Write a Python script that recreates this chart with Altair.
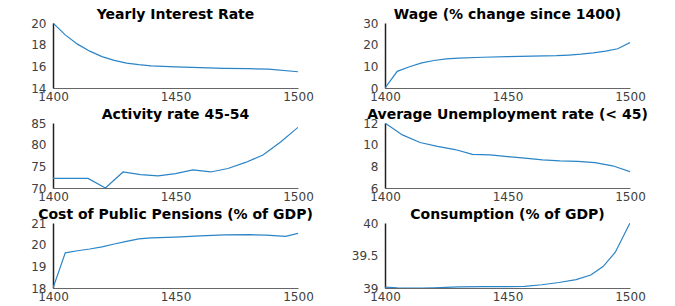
import altair as alt
import pandas as pd

# ---- data ----
interest_years = [1400, 1405, 1410, 1415, 1420, 1425, 1430, 1435, 1440, 1450, 1460, 1470, 1480, 1488, 1500]
interest_vals = [20.0, 18.9, 18.05, 17.4, 16.9, 16.55, 16.3, 16.15, 16.05, 15.95, 15.88, 15.82, 15.78, 15.75, 15.5]

wage_years = [1400, 1405, 1410, 1415, 1420, 1425, 1430, 1440, 1450, 1460, 1470, 1475, 1480, 1485, 1490, 1495, 1500]
wage_vals = [0.0, 7.7, 9.8, 11.6, 12.7, 13.4, 13.8, 14.2, 14.5, 14.7, 14.9, 15.2, 15.6, 16.2, 17.0, 18.1, 21.0]

activity_years = [1400, 1407.1, 1414.3, 1421.4, 1428.6, 1435.7, 1442.9, 1450, 1457.1, 1464.3, 1471.4, 1478.6, 1485.7, 1492.9, 1500]
activity_vals = [72.2, 72.2, 72.2, 70.0, 73.7, 73.1, 72.8, 73.3, 74.2, 73.7, 74.5, 75.9, 77.6, 80.6, 84.0]

unemp_years = [1400, 1407.1, 1414.3, 1421.4, 1428.6, 1435.7, 1442.9, 1450, 1457.1, 1464.3, 1471.4, 1478.6, 1485.7, 1492.9, 1500]
unemp_vals = [12.0, 10.9, 10.2, 9.85, 9.55, 9.1, 9.05, 8.9, 8.75, 8.6, 8.5, 8.45, 8.35, 8.05, 7.5]

pension_years = [1400, 1405, 1410, 1415, 1420, 1425, 1430, 1435, 1440, 1450, 1460, 1470, 1480, 1487, 1495, 1500]
pension_vals = [18.0, 19.62, 19.72, 19.8, 19.9, 20.03, 20.15, 20.27, 20.31, 20.35, 20.41, 20.45, 20.46, 20.44, 20.38, 20.52]

cons_years = [1400, 1405, 1410, 1415, 1420, 1425, 1430, 1440, 1450, 1457, 1464, 1471, 1478, 1484, 1489, 1494, 1500]
cons_vals = [39.015, 39.003, 39.0, 39.0, 39.003, 39.01, 39.018, 39.02, 39.022, 39.025, 39.05, 39.085, 39.13, 39.2, 39.33, 39.55, 40.0]

x_ticks = [1400, 1450, 1500]

LINE = "#2b84c6"
TXT = "#404040"


def panel(years, values, title, ydomain, yticks):
    df = pd.DataFrame({"year": years, "value": values})
    return (
        alt.Chart(
            df,
            title=alt.TitleParams(
                title, fontSize=14, font="DejaVu Sans", fontWeight="bold",
                color="black", anchor="middle", offset=-5,
            ),
        )
        .mark_line(color=LINE, strokeWidth=1.2, clip=True)
        .encode(
            x=alt.X(
                "year:Q",
                scale=alt.Scale(domain=[1400, 1500], nice=False, zero=False),
                axis=alt.Axis(
                    values=x_ticks, title=None, grid=False, ticks=False, format="d",
                    labelFont="DejaVu Sans", labelFontSize=12, labelColor=TXT,
                    labelFlush=False, labelOverlap=False, labelPadding=3,
                    domainColor="#666666", domainWidth=1,
                ),
            ),
            y=alt.Y(
                "value:Q",
                scale=alt.Scale(domain=ydomain, nice=False, zero=False),
                axis=alt.Axis(
                    values=yticks, title=None, grid=False, ticks=False, format="~r",
                    labelFont="DejaVu Sans", labelFontSize=12, labelColor=TXT,
                    labelOverlap=False, labelPadding=7, labelFlush=False,
                    domainColor="#222222", domainWidth=1.5,
                    minExtent=45, maxExtent=45,
                ),
            ),
        )
        .properties(width=245, height=65)
    )


panels = [
    panel(interest_years, interest_vals, "Yearly Interest Rate", [14, 20], [14, 16, 18, 20]),
    panel(wage_years, wage_vals, "Wage (% change since 1400)", [0, 30], [0, 10, 20, 30]),
    panel(activity_years, activity_vals, "Activity rate 45-54", [70, 85], [70, 75, 80, 85]),
    panel(unemp_years, unemp_vals, "Average Unemployment rate (< 45)", [6, 12], [6, 8, 10, 12]),
    panel(pension_years, pension_vals, "Cost of Public Pensions (% of GDP)", [18, 21], [18, 19, 20, 21]),
    panel(cons_years, cons_vals, "Consumption (% of GDP)", [39, 40], [39, 39.5, 40]),
]

chart = (
    alt.concat(*panels, columns=2, spacing={"row": 35, "column": 87}, bounds="flush")
    .properties(padding={"left": 0, "top": 0, "right": 0, "bottom": 0})
    .configure_view(stroke=None)
)

chart.save("out.html", embed_options={"renderer": "svg", "actions": False})
